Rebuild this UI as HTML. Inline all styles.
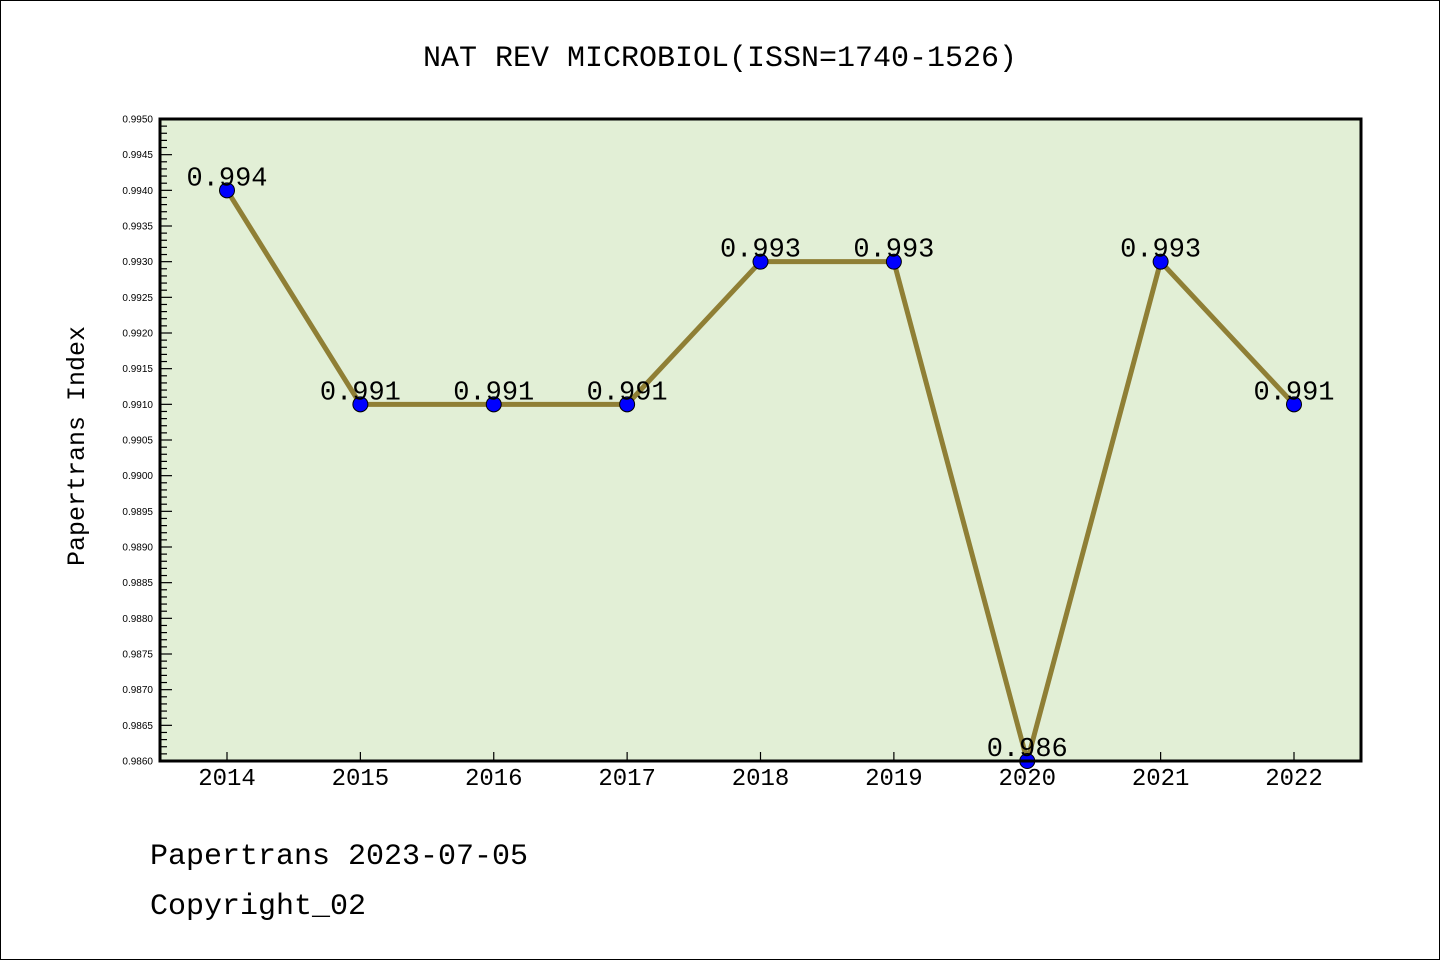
<!DOCTYPE html>
<html><head><meta charset="utf-8"><style>
html,body{margin:0;padding:0;background:#fff;}
svg text{font-family:"Liberation Mono",monospace;}
svg text.sm{font-family:"Liberation Sans",sans-serif;}
</style></head><body>
<svg width="1440" height="960" xmlns="http://www.w3.org/2000/svg">
<rect x="0.5" y="0.5" width="1439" height="959" fill="#fff" stroke="#000" stroke-width="1"/>
<text x="720" y="66" text-anchor="middle" font-size="30">NAT REV MICROBIOL(ISSN=1740-1526)</text>
<rect x="160" y="119" width="1201" height="642" fill="#e2efd6"/>
<g id="axes"></g>
<g id="series"></g>
<rect x="160" y="119" width="1201" height="642" fill="none" stroke="#000" stroke-width="3"/>
<text transform="translate(84,446) rotate(-90)" text-anchor="middle" font-size="25">Papertrans Index</text>
<text x="150" y="864" font-size="30">Papertrans 2023-07-05</text>
<text x="150" y="914" font-size="30">Copyright_02</text>
</svg>
<script>
const years=["2014","2015","2016","2017","2018","2019","2020","2021","2022"];
const values=[0.994,0.991,0.991,0.991,0.993,0.993,0.986,0.993,0.991];
const labels=["0.994","0.991","0.991","0.991","0.993","0.993","0.986","0.993","0.991"];
const yMin=0.986,yMax=0.995;
const NS="http://www.w3.org/2000/svg";
const X0=227,X1=1294,Y0=761,Y1=119;
function xs(i){return X0+(X1-X0)*i/(years.length-1);}
function ys(v){return Y0-(v-yMin)/(yMax-yMin)*(Y0-Y1);}
function mk(t,a,p){const e=document.createElementNS(NS,t);for(const k in a)e.setAttribute(k,a[k]);p.appendChild(e);return e;}
const ax=document.getElementById('axes'),se=document.getElementById('series');
for(let k=0;k<=90;k++){
 const v=yMin+k*0.0001,y=ys(v),major=k%5===0;
 const t=mk('line',{x1:160,x2:160+(major?12:7),y1:y,y2:y,stroke:'#000','stroke-width':1.2},ax);
 
 
 if(major){const l=mk('text',{x:153,y:y+3.5,'text-anchor':'end','font-size':10,'class':'sm'},ax);l.textContent=v.toFixed(4);
 
 }
}
years.forEach((yr,i)=>{
 const x=xs(i);
 const t=mk('line',{x1:x,x2:x,y1:761,y2:752,stroke:'#000','stroke-width':1.2},ax);
 
 
 const l=mk('text',{x:x,y:785,'text-anchor':'middle','font-size':24},ax);l.textContent=yr;
 
 
});
const pts=values.map((v,i)=>xs(i)+','+ys(v)).join(' ');
const pl=mk('polyline',{points:pts,fill:'none',stroke:'#8f7f35','stroke-width':5,'stroke-linejoin':'round'},se);


values.forEach((v,i)=>{
 const c=mk('circle',{cx:xs(i),cy:ys(v),r:7.5,fill:'#0000ff',stroke:'#000','stroke-width':1},se);
 
 
});
values.forEach((v,i)=>{
 const l=mk('text',{x:xs(i),y:ys(v)-5,'text-anchor':'middle','font-size':27},se);l.textContent=labels[i];
 
 
});
</script>
</body></html>
